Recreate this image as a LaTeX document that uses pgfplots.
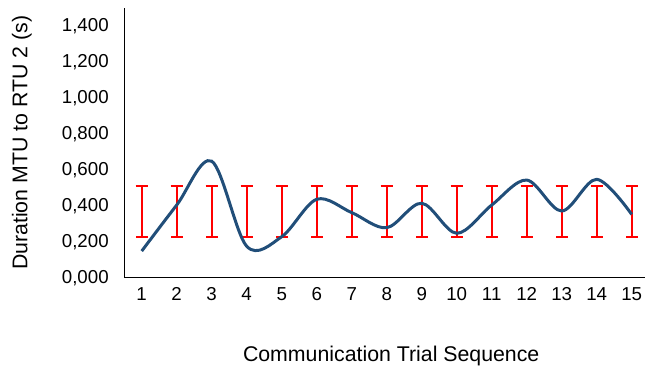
\documentclass[border=0pt]{standalone}
\usepackage{pgfplots}
\pgfplotsset{compat=1.18}
\usepackage{fontspec}
\setmainfont{Liberation Sans}
\definecolor{lineblue}{RGB}{33,78,121}
\begin{document}
\begin{tikzpicture}[x=1pt,y=1pt]
\begin{axis}[
  at={(0,0)}, anchor=south west,
  scale only axis,
  width=521.5pt, height=269.7pt,
  xmin=0.5, xmax=15.4,
  ymin=0, ymax=1.5,
  axis x line=bottom, axis y line=left,
  axis line style={-, black, line width=1pt},
  major tick length=0pt,
  xtick={1,2,...,15},
  ytick={0,0.2,0.4,0.6,0.8,1.0,1.2,1.4},
  yticklabels={{0,000},{0,200},{0,400},{0,600},{0,800},{1,000},{1,200},{1,400}},
  tick label style={font=\fontsize{18.7}{22}\selectfont},
  /pgf/number format/assume math mode=true,
  yticklabel style={xshift=-12pt},
  xticklabel style={yshift=-6pt},
  xlabel={Communication Trial Sequence},
  ylabel={Duration MTU to RTU 2 (s)},
  label style={font=\fontsize{21.3}{25}\selectfont},
  xlabel style={at={(axis description cs:0.512,-0.290)}, anchor=center},
  ylabel style={at={(axis description cs:-0.196,0.5)}, anchor=center},
  clip=false,
]
\addplot[draw=none, mark=none, forget plot,
  error bars/.cd, y dir=both, y explicit,
  error bar style={red, line width=1.8pt},
  error mark options={rotate=90, mark size=6pt, red, line width=1.8pt}]
  coordinates {
  (1,0.3685) +- (0,0.1405)
  (2,0.3685) +- (0,0.1405)
  (3,0.3685) +- (0,0.1405)
  (4,0.3685) +- (0,0.1405)
  (5,0.3685) +- (0,0.1405)
  (6,0.3685) +- (0,0.1405)
  (7,0.3685) +- (0,0.1405)
  (8,0.3685) +- (0,0.1405)
  (9,0.3685) +- (0,0.1405)
  (10,0.3685) +- (0,0.1405)
  (11,0.3685) +- (0,0.1405)
  (12,0.3685) +- (0,0.1405)
  (13,0.3685) +- (0,0.1405)
  (14,0.3685) +- (0,0.1405)
  (15,0.3685) +- (0,0.1405)
  };
\addplot[lineblue, line width=3pt, smooth, tension=0.55, mark=none] coordinates {
  (1,0.148) (2,0.404) (3,0.648) (4,0.175) (5,0.228) (6,0.436) (7,0.362)
  (8,0.278) (9,0.414) (10,0.247) (11,0.404) (12,0.543) (13,0.371)
  (14,0.547) (15,0.352)
};
\end{axis}
\pgfresetboundingbox
\path[use as bounding box] (-124.2pt,-93.3pt) rectangle (520.8pt,277.7pt);
\end{tikzpicture}
\end{document}
